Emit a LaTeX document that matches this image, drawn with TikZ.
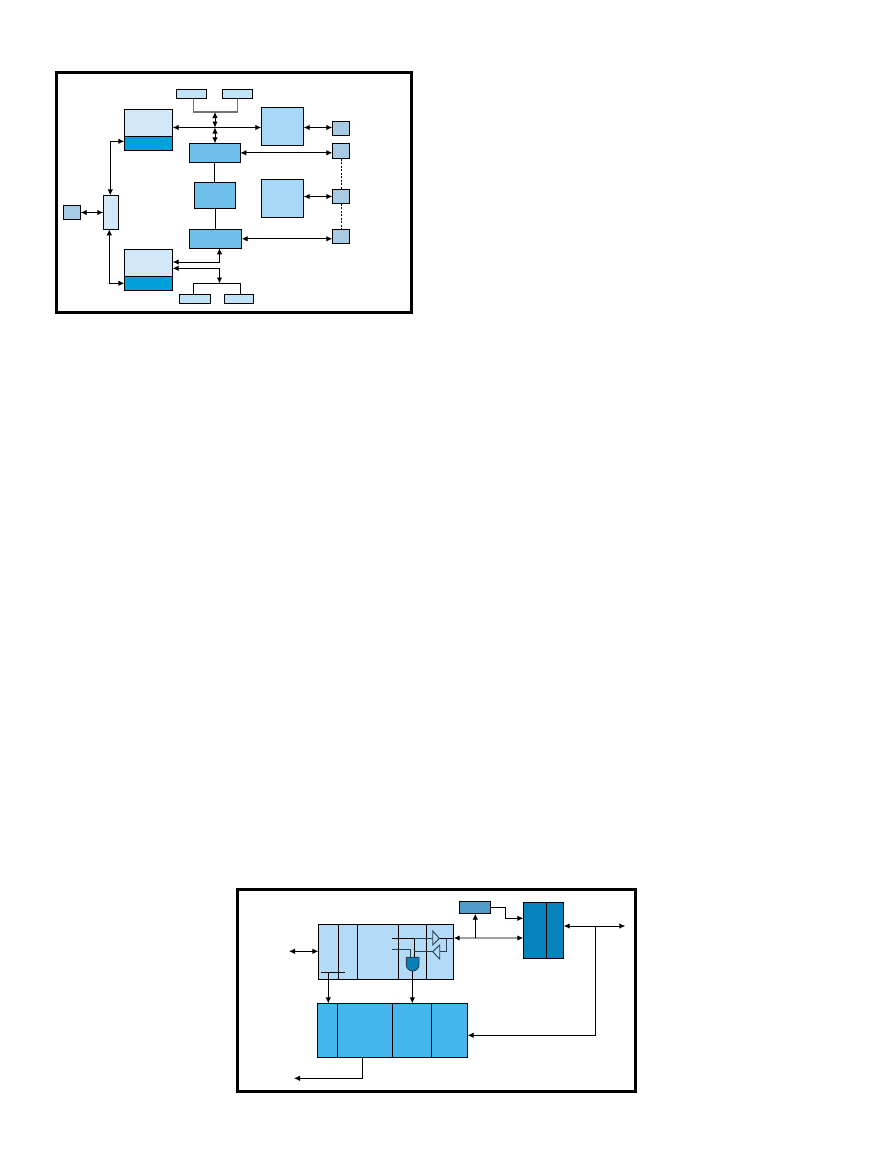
\documentclass[tikz,border=0pt]{standalone}
\usepackage{tikz}
\usetikzlibrary{arrows.meta}

\definecolor{memlight}{HTML}{D2E8F8}
\definecolor{memdark}{HTML}{00A0DA}
\definecolor{portlight}{HTML}{C0E3F8}
\definecolor{chipmid}{HTML}{6EBFEC}
\definecolor{chipbig}{HTML}{A8D8F8}
\definecolor{iobox}{HTML}{A6CAE4}
\definecolor{cellbox}{HTML}{B3DBF7}
\definecolor{ctrlbox}{HTML}{4F9CC8}
\definecolor{xcvrbox}{HTML}{0682BC}
\definecolor{corebox}{HTML}{45B6EE}
\definecolor{gatefill}{HTML}{0780BC}
\definecolor{logicline}{HTML}{263E50}
\definecolor{busgrey}{HTML}{A0A0A0}

\tikzset{
  blk/.style={draw=black, line width=1pt, inner sep=0pt, outer sep=0pt},
  link/.style={line width=0.9pt, black},
  both/.style={link, {Latex[length=6pt,width=5.5pt]}-{Latex[length=6pt,width=5.5pt]}},
  tip/.style={link, -{Latex[length=6pt,width=5.5pt]}},
  frameline/.style={line width=3pt, black},
  logic/.style={line width=0.9pt, logicline},
  dotted link/.style={line width=1pt, black, dash pattern=on 2pt off 1.5pt}
}

\begin{document}
\begin{tikzpicture}[x=1pt, y=-1pt]
  \useasboundingbox (0,0) rectangle (878,1175);

  % upper board
  \draw[frameline] (56.5,72.5) rectangle (411.5,312.5);

  % memory banks
  \node[blk, fill=memlight, minimum width=48.4pt, minimum height=27pt] (memAtop) at (148.5,122.8) {};
  \node[blk, fill=memdark, minimum width=48.4pt, minimum height=14pt] (memAlow) at (148.5,143.3) {};
  \node[blk, fill=memlight, minimum width=48.4pt, minimum height=27pt] (memBtop) at (148.5,262.8) {};
  \node[blk, fill=memdark, minimum width=48.4pt, minimum height=14pt] (memBlow) at (148.5,283.3) {};

  % slots
  \node[blk, fill=portlight, minimum width=30.4pt, minimum height=9.4pt] (slotA) at (191.5,94) {};
  \node[blk, fill=portlight, minimum width=30.4pt, minimum height=9.4pt] (slotB) at (237.5,94) {};
  \node[blk, fill=portlight, minimum width=31.4pt, minimum height=9.4pt] (slotC) at (195,299) {};
  \node[blk, fill=portlight, minimum width=29.4pt, minimum height=9.4pt] (slotD) at (239,299) {};

  % bridges and processor
  \node[blk, fill=chipmid, minimum width=51pt, minimum height=19pt] (bridgeA) at (214.8,152.8) {};
  \node[blk, fill=chipmid, minimum width=41pt, minimum height=26pt] (cpu) at (214.8,195.3) {};
  \node[blk, fill=chipmid, minimum width=52.4pt, minimum height=19pt] (bridgeB) at (215.5,238.8) {};

  % large devices
  \node[blk, fill=chipbig, minimum width=42.4pt, minimum height=38pt] (devA) at (282.5,126.3) {};
  \node[blk, fill=chipbig, minimum width=42.4pt, minimum height=38pt] (devB) at (282.5,198.3) {};

  % ports on the right
  \node[blk, fill=iobox, minimum width=17.4pt, minimum height=14.4pt] (portA) at (341,128.5) {};
  \node[blk, fill=iobox, minimum width=17.4pt, minimum height=15.4pt] (portB) at (341,151) {};
  \node[blk, fill=iobox, minimum width=17.4pt, minimum height=14.4pt] (portC) at (341,196.5) {};
  \node[blk, fill=iobox, minimum width=17.4pt, minimum height=14.4pt] (portD) at (341,236.5) {};

  % switch on the left
  \node[blk, fill=iobox, minimum width=17.4pt, minimum height=14.4pt] (ext) at (72,212.5) {};
  \node[blk, fill=memlight, minimum width=15.4pt, minimum height=34pt] (hub) at (111,212.3) {};

  % rails used by the connectors
  \coordinate (busup) at (215,112);
  \coordinate (busmid) at (215,127.5);
  \coordinate (memarm) at (110.3,141.3);
  \coordinate (memarmB) at (109.3,283.3);
  \coordinate (lowerA) at (219.5,262);
  \coordinate (lowerB) at (219.5,268.3);
  \coordinate (busdown) at (219.5,283.5);

  \draw[line width=1.2pt, black!55] (slotA.south -| 193.3,0) |- (busup) -| (slotB.south -| 237.3,0);
  \draw[both] (busup) -- (busmid);
  \draw[both] (busmid) -- (bridgeA.north -| busmid);
  \draw[both] (memAtop.east |- busmid) -- (devA.west |- busmid);
  \draw[both] (devA.east |- busmid) -- (portA.west |- busmid);
  \draw[both] (bridgeA.east) -- (portB.west |- bridgeA.east);
  \draw[link] (bridgeA.south) -- (cpu.north);
  \draw[link] (cpu.south -| 215.5,0) -- (bridgeB.north);
  \draw[both] (devB.east |- portC.west) -- (portC.west);
  \draw[both] (bridgeB.east) -- (portD.west |- bridgeB.east);
  \draw[dotted link] (portB.south) -- (portC.north);
  \draw[dotted link] (portC.south) -- (portD.north);
  \draw[both] (ext.east) -- (hub.west |- ext.east);
  \draw[both] (hub.north -| memarm) |- (memAlow.west |- memarm);
  \draw[both] (hub.south -| memarmB) |- (memBlow.west |- memarmB);
  \draw[both] (memBtop.east |- lowerA) -| (bridgeB.south -| lowerA);
  \draw[both] (memBtop.east |- lowerB) -| (busdown);
  \draw[link] (slotC.north -| 193.3,0) |- (busdown) -| (slotD.north -| 240.7,0);

  % lower board
  \draw[frameline] (237.5,889.5) rectangle (635.5,1091);

  \node[blk, fill=cellbox, minimum width=135.4pt, minimum height=55.4pt] (cell) at (386,952) {};
  \node[blk, fill=ctrlbox, minimum width=31.4pt, minimum height=12.4pt] (ctrl) at (475,907.5) {};
  \node[blk, fill=xcvrbox, minimum width=40.4pt, minimum height=56pt] (xcvr) at (543.5,930.3) {};
  \node[blk, fill=corebox, minimum width=150.4pt, minimum height=54pt] (core) at (392.5,1030.3) {};

  % cell and core partitions
  \foreach \px in {338.3,357.3,398.3,426.3}
    \draw[link] (\px,924.3) -- (\px,979.7);
  \foreach \px in {337.3,392.3,431.3}
    \draw[link] (\px,1003.3) -- (\px,1057.3);
  \draw[link] (546.3,902.3) -- (546.3,958.3);

  \coordinate (hostend) at (289,951.3);
  \coordinate (cellbus) at (475.3,938);
  \coordinate (ctrlbend) at (505.7,918.3);
  \coordinate (netend) at (625.3,926);
  \coordinate (nettap) at (595.3,926);
  \coordinate (backlink) at (595.3,1035.3);
  \coordinate (outbend) at (362.3,1078.3);
  \coordinate (outend) at (294,1078.3);
  \coordinate (tapL) at (321,972.3);
  \coordinate (tapR) at (345,972.3);
  \coordinate (tapdrop) at (328.3,972.3);

  \draw[both] (hostend) -- (cell.west |- hostend);
  \draw[link] (tapL) -- (tapR);
  \draw[tip] (tapdrop) -- (core.north -| tapdrop);

  % tri-state buffers and gate
  \coordinate (txtip) at (439.3,938.3);
  \coordinate (rxtip) at (432.7,951.7);
  \draw[link] (392,938.3) -- (414.3,938.3) -- (414.3,957.3);
  \draw[logic] (414.3,938.3) -- (432.7,938.3);
  \draw[logic] (392,949) -- (410,949) -- (410,957.3);
  \draw[logic] (414.3,951.7) -- (rxtip);
  \draw[logic] (439.7,951.7) -- (446.3,951.7) -- (446.3,938.3);
  \draw[link] (txtip) -- (cell.east |- txtip);
  \draw[logic, fill=cellbox] (432.7,931) -- (txtip) -- (432.7,945) -- cycle;
  \draw[logic, fill=cellbox] (439.7,945) -- (rxtip) -- (439.7,959) -- cycle;
  \draw[line width=0.9pt, logicline, fill=gatefill] (406.3,957.3) -- (419,957.3) -- (419,964.5)
    arc (0:180:6.35 and 6.5) -- cycle;
  \draw[tip] (412.3,971) -- (core.north -| 412.3,0);

  \draw[line width=1.3pt, busgrey, {Latex[length=6pt,width=5.5pt,black]}-{Latex[length=6pt,width=5.5pt,black]}]
    (cell.east |- cellbus) -- (xcvr.west |- cellbus);
  \draw[tip] (cellbus) -- (ctrl.south -| cellbus);
  \draw[tip] (ctrl.east) -| (ctrlbend) -- (xcvr.west |- ctrlbend);
  \draw[both] (xcvr.east |- netend) -- (netend);
  \draw[tip] (nettap) -- (backlink) -- (core.east |- backlink);
  \draw[tip] (core.south -| outbend) |- (outend);
\end{tikzpicture}
\end{document}
